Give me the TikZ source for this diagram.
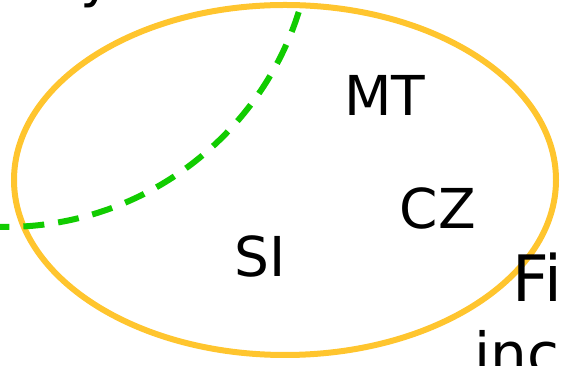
\documentclass[tikz,border=0pt]{standalone}
\usepackage{fontspec}
\setmainfont{DejaVu Sans}
\usepackage{tikz}
\definecolor{setorange}{HTML}{FFC52E}
\definecolor{setgreen}{HTML}{11CC00}

\begin{document}
\begin{tikzpicture}[x=1pt,y=1pt,
    setlabel/.style={inner sep=0pt,font=\fontsize{55}{60}\selectfont}]
  % Frame
  \useasboundingbox (0,0) rectangle (565,366);
  \clip (0,0) rectangle (565,366);
  % Sets
  \draw[setorange,line width=6pt] (285,186) ellipse [x radius=271pt, y radius=175pt];
  \draw[setgreen,line width=6pt,dash pattern=on 21pt off 14pt] (5,447) circle [radius=308pt];
  % Members
  \node[setlabel] (mt) at (385,271) {MT};
  \node[setlabel] (cz) at (438,158) {CZ};
  \node[setlabel] (si) at (260,110) {SI};
  % Cut-off titles
  \node[setlabel,anchor=base west] (ytail) at (80,369) {y};
  \node[inner sep=0pt,anchor=base west,font=\fontsize{64}{70}\selectfont] (fi) at (512,64) {Fi};
  \node[inner sep=0pt,anchor=base west,font=\fontsize{58}{64}\selectfont] (inc) at (474,-9) {inc};
\end{tikzpicture}
\end{document}
